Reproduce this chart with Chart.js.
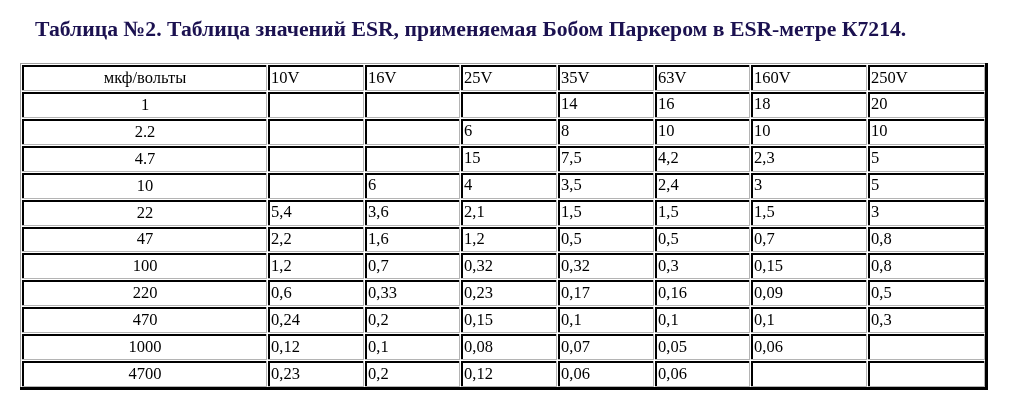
<!DOCTYPE html>
<html>
<head>
<meta charset="utf-8">
<script src="https://cdn.jsdelivr.net/npm/chart.js@4.4.1/dist/chart.umd.min.js"></script>
<style>
html,body{margin:0;padding:0;background:#fff;}
#wrap{position:relative;width:1024px;height:407px;}
</style>
</head>
<body>
<div id="wrap"><canvas id="c"></canvas></div>
<script>
// ---- data ----
const titleText = 'Таблица №2. Таблица значений ESR, применяемая Бобом Паркером в ESR-метре К7214.';
const cornerLabel = 'мкф/вольты';
const capacitances = ['1','2.2','4.7','10','22','47','100','220','470','1000','4700'];
const voltages = ['10V','16V','25V','35V','63V','160V','250V'];
const esr10V  = [null,null,null,null,5.4,2.2,1.2,0.6,0.24,0.12,0.23];
const esr16V  = [null,null,null,6,3.6,1.6,0.7,0.33,0.2,0.1,0.2];
const esr25V  = [null,6,15,4,2.1,1.2,0.32,0.23,0.15,0.08,0.12];
const esr35V  = [14,8,7.5,3.5,1.5,0.5,0.32,0.17,0.1,0.07,0.06];
const esr63V  = [16,10,4.2,2.4,1.5,0.5,0.3,0.16,0.1,0.05,0.06];
const esr160V = [18,10,2.3,3,1.5,0.7,0.15,0.09,0.1,0.06,null];
const esr250V = [20,10,5,5,3,0.8,0.8,0.5,0.3,null,null];
const seriesList = [esr10V,esr16V,esr25V,esr35V,esr63V,esr160V,esr250V];

// ---- layout (styles, not data) ----
const colWidths = [246,97,96,97,97,96,117,118];
const colEdges = [0];
colWidths.forEach(w => colEdges.push(colEdges[colEdges.length-1] + w));
const totalWidth = colEdges[colEdges.length-1];
const rowCount = capacitances.length + 1;
const FONT = '16.5px "Liberation Serif", "Times New Roman", serif';

function fmt(v){ return String(v).replace('.', ','); }

const datasets = seriesList.map((arr, ci) => ({
  label: voltages[ci],
  data: arr.map((v, ri) => v === null ? null : ({x: colEdges[ci+1], y: ri + 1.5, v: v})).filter(d => d !== null),
  pointRadius: 0,
  pointHoverRadius: 0,
  showLine: false
}));

const tablePlugin = {
  id: 'tablePlugin',
  afterDatasetsDraw(chart) {
    const ctx = chart.ctx;
    const xs = chart.scales.x, ys = chart.scales.y;
    const px = v => Math.round(xs.getPixelForValue(v));
    const py = v => Math.round(ys.getPixelForValue(v));
    ctx.save();
    // title
    ctx.fillStyle = '#1b1150';
    ctx.font = 'bold 21.7px "Liberation Serif", "Times New Roman", serif';
    ctx.textAlign = 'left';
    ctx.textBaseline = 'alphabetic';
    ctx.fillText(titleText, 35, 36);

    const L0 = px(0), R0 = px(totalWidth), T0 = py(0), B0 = py(rowCount);
    // outer table border
    ctx.fillStyle = '#a0a0a0';
    ctx.fillRect(L0 - 2, T0 - 2, R0 - L0 + 4, 1);
    ctx.fillRect(L0 - 2, T0 - 2, 1, B0 - T0 + 4);
    ctx.fillStyle = '#000';
    ctx.fillRect(R0 - 1, T0 - 2, 3, B0 - T0 + 4);
    ctx.fillRect(L0 - 2, B0 - 1, R0 - L0 + 4, 3);

    // cells
    for (let r = 0; r < rowCount; r++) {
      const T = py(r), B = py(r + 1);
      for (let c = 0; c < colWidths.length; c++) {
        const L = px(colEdges[c]), R = px(colEdges[c + 1]);
        ctx.fillStyle = '#000';
        ctx.fillRect(L, T, R - L - 2, 2);
        ctx.fillRect(L, T, 2, B - T - 2);
        ctx.fillStyle = '#b4b4b4';
        ctx.fillRect(R - 2, T, 1, B - T - 1);
        ctx.fillRect(L, B - 2, R - L - 1, 1);
      }
    }

    ctx.fillStyle = '#000';
    ctx.font = FONT;
    ctx.textBaseline = 'alphabetic';
    // header row
    const hy = (py(0) + py(1)) / 2 + 4;
    ctx.textAlign = 'center';
    ctx.fillText(cornerLabel, (px(colEdges[0]) + px(colEdges[1])) / 2, hy);
    ctx.textAlign = 'left';
    voltages.forEach((v, ci) => ctx.fillText(v, px(colEdges[ci + 1]) + 3, hy));
    // first column
    ctx.textAlign = 'center';
    capacitances.forEach((cap, ri) => {
      ctx.fillText(cap, (px(colEdges[0]) + px(colEdges[1])) / 2, (py(ri + 1) + py(ri + 2)) / 2 + 4);
    });
    // values via dataset elements
    ctx.textAlign = 'left';
    chart.data.datasets.forEach((ds, di) => {
      const meta = chart.getDatasetMeta(di);
      meta.data.forEach((el, i) => {
        const d = ds.data[i];
        if (!d) return;
        ctx.fillText(fmt(d.v), Math.round(el.x) + 3, el.y + 4);
      });
    });
    ctx.restore();
  }
};

new Chart(document.getElementById('c'), {
  type: 'scatter',
  data: { datasets },
  options: {
    responsive: true,
    maintainAspectRatio: false,
    devicePixelRatio: 1,
    animation: false,
    events: [],
    layout: { padding: { left: 22, right: 38, top: 65, bottom: 19 } },
    plugins: { legend: { display: false }, tooltip: { enabled: false }, title: { display: false } },
    scales: {
      x: { type: 'linear', min: 0, max: totalWidth, display: false },
      y: { type: 'linear', min: 0, max: rowCount, reverse: true, display: false }
    }
  },
  plugins: [tablePlugin]
});
</script>
</body>
</html>
